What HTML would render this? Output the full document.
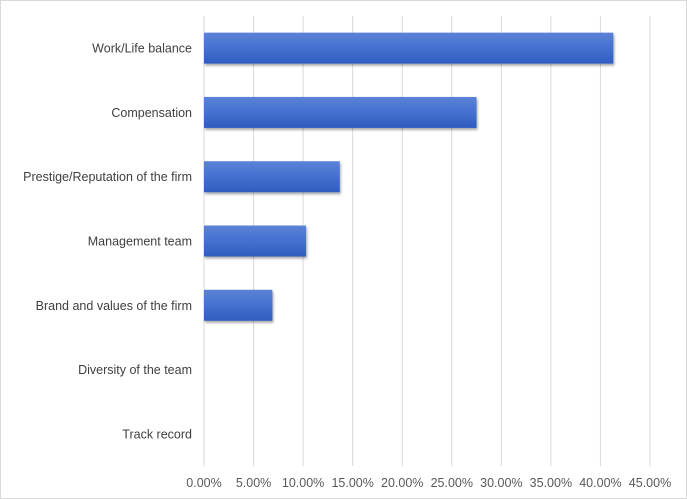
<!DOCTYPE html>
<html><head><meta charset="utf-8"><style>
body{margin:0;background:#fff}
svg{display:block;font-family:"Liberation Sans",Arial,sans-serif}
</style></head><body>
<svg id="chart" width="687" height="499" viewBox="0 0 687 499" xmlns="http://www.w3.org/2000/svg">
<defs>
<linearGradient id="g" x1="0" y1="0" x2="0" y2="1">
<stop offset="0" stop-color="#5b82d6"/><stop offset="0.5" stop-color="#4471d0"/><stop offset="1" stop-color="#2f5cbf"/>
</linearGradient>
<filter id="sh" x="-5%" y="-20%" width="110%" height="160%"><feDropShadow dx="1" dy="2" stdDeviation="1.2" flood-color="#000" flood-opacity="0.35"/></filter>
</defs>
<rect x="0.5" y="0.5" width="686" height="498" fill="#fff" stroke="#d9d9d9"/>
<g id="grid"></g><g id="bars"></g><g id="labels"></g><g id="ticks"></g>
</svg>
<script>
const categories=["Work/Life balance","Compensation","Prestige/Reputation of the firm","Management team","Brand and values of the firm","Diversity of the team","Track record"];
const values=[41.3,27.5,13.7,10.3,6.9,0,0];
const tickValues=[0,5,10,15,20,25,30,35,40,45];
const tickLabels=["0.00%","5.00%","10.00%","15.00%","20.00%","25.00%","30.00%","35.00%","40.00%","45.00%"];
const NS="http://www.w3.org/2000/svg";
const x0=204,x1=650,maxV=45,plotTop=16,plotBottom=466;
const xs=v=>x0+(x1-x0)*v/maxV;
const band=(plotBottom-plotTop)/categories.length;
const yc=i=>plotTop+band*(i+0.5);
function mk(t,a,p){const e=document.createElementNS(NS,t);for(const k in a)e.setAttribute(k,a[k]);p.appendChild(e);return e;}
const grid=document.getElementById('grid'),bars=document.getElementById('bars'),labels=document.getElementById('labels'),ticks=document.getElementById('ticks');
tickValues.forEach((v,i)=>{
 const l=mk('line',{x1:xs(v),x2:xs(v),y1:plotTop,y2:plotBottom,stroke:'#d9d9d9','stroke-width':1},grid);
 
 
 const t=mk('text',{x:xs(v),y:487,'text-anchor':'middle','font-size':12.5,fill:'#595959'},ticks);
 t.textContent=tickLabels[i];
 
 
});
categories.forEach((c,i)=>{
 const h=31;
 const w=Math.max(xs(values[i])-x0,0);
 if(w>0){
  const r=mk('rect',{x:x0,y:yc(i)-h/2,width:w,height:h,fill:'url(#g)',filter:'url(#sh)'},bars);
  
  
 }
 const t=mk('text',{x:192,y:yc(i)+4.5,'text-anchor':'end','font-size':12.5,fill:'#404040'},labels);
 t.textContent=c;
 
 
});
</script>
</body></html>
